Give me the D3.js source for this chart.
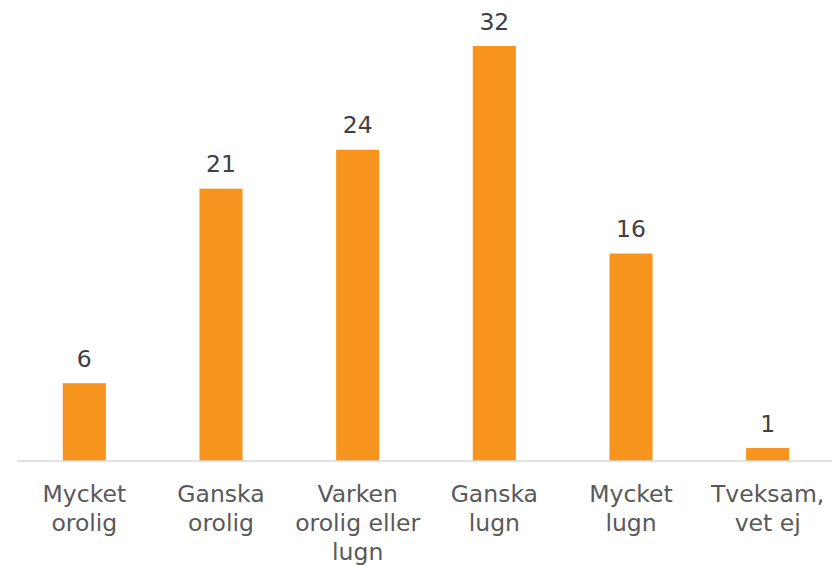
<!DOCTYPE html>
<html>
<head>
<meta charset="utf-8">
<script src="https://cdn.jsdelivr.net/npm/d3@7"></script>
<style>
  body { margin: 0; background: #fff; }
  svg text { font-family: "DejaVu Sans", Verdana, sans-serif; }
</style>
</head>
<body>
<div id="chart"></div>
<script>
var categories = ["Mycket orolig", "Ganska orolig", "Varken orolig eller lugn",
                  "Ganska lugn", "Mycket lugn", "Tveksam, vet ej"];
var values = [6, 21, 24, 32, 16, 1];

var width  = 832,
    height = 566;

var svg = d3.select("#chart").append("svg")
      .attr("width", width)
      .attr("height", height);

var x = d3.scaleBand()
      .domain(categories)
      .range([16, 836])
      .paddingInner(0.685)
      .paddingOuter(0.3425);

var y = d3.scaleLinear()
      .domain([0, 32])
      .range([461, 46]);

// bars
svg.selectAll("rect.bar")
    .data(values)
    .enter()
    .append("rect")
    .attr("class", "bar")
    .attr("x", function (d, i) { return x(categories[i]); })
    .attr("y", function (d) { return y(d); })
    .attr("width", x.bandwidth())
    .attr("height", function (d) { return y(0) - y(d); })
    .style("fill", "#F7941D");

// value labels
svg.selectAll("text.val")
    .data(values)
    .enter()
    .append("text")
    .attr("class", "val")
    .attr("x", function (d, i) { return x(categories[i]) + x.bandwidth() / 2; })
    .attr("y", function (d) { return y(d) - 16.5; })
    .attr("text-anchor", "middle")
    .style("font-size", "23.5px")
    .style("fill", "#404040")
    .text(function (d) { return d; });

// axis
var xAxis = d3.axisBottom(x).tickSize(0).tickPadding(0);
var gx = svg.append("g")
    .attr("transform", "translate(0," + y(0) + ")")
    .call(xAxis);

gx.select(".domain").remove();
gx.append("line")
    .attr("x1", 17).attr("x2", width)
    .attr("y1", 0).attr("y2", 0)
    .style("stroke", "#D9D9D9")
    .style("stroke-width", 1.5);

gx.selectAll(".tick text")
    .style("font-size", "23.5px")
    .style("fill", "#595959")
    .call(wrap, x.step() * 0.97);

// split tick labels into lines that fit the band
function wrap(texts, maxW) {
  texts.each(function () {
    var text = d3.select(this),
        words = text.text().split(/\s+/),
        lines = [], line = [];
    text.text(null);
    var probe = text.append("tspan");
    words.forEach(function (w) {
      line.push(w);
      probe.text(line.join(" "));
      if (probe.node().getComputedTextLength() > maxW && line.length > 1) {
        line.pop();
        lines.push(line.join(" "));
        line = [w];
      }
    });
    lines.push(line.join(" "));
    probe.remove();
    text.attr("y", null).attr("dy", null);
    lines.forEach(function (l, k) {
      text.append("tspan")
          .attr("x", 0)
          .attr("y", 41 + k * 29)
          .text(l);
    });
  });
}
</script>
</body>
</html>
